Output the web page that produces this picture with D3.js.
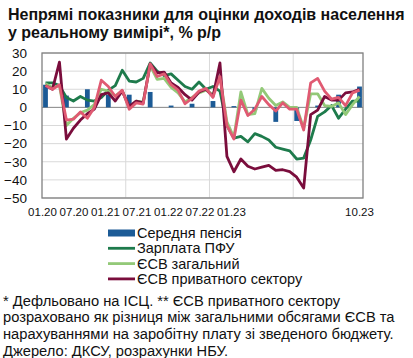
<!DOCTYPE html>
<html>
<head>
<meta charset="utf-8">
<script src="https://cdn.jsdelivr.net/npm/d3@7"></script>
<style>
  body { margin: 0; background: #fff; }
  svg { display: block; font-family: "Liberation Sans", Arial, sans-serif; }
</style>
</head>
<body>
<div id="chart"></div>
<script>
// monthly categories 01.20 .. 10.23
const months = d3.utcMonth.range(new Date(Date.UTC(2020, 0, 1)), new Date(Date.UTC(2023, 10, 1)))
  .map(d3.utcFormat("%m.%y"));

// quarterly average pension (bars), null where no value
const pension = [12.5, null, null, 6.5, null, null, 10, null, null, 7, null, null,
  7, null, null, 8.5, null, null, 1, null, null, 2, null, null,
  3.5, null, null, 0.7, null, null, -1.5, null, null, -8, null, null,
  -7.5, null, null, 1, null, null, 7, null, null, 11.5];

const pfuWage = [13.5, 13.5, 12, 5.5, 3.5, 6, 4, 3.5, 5.5, 9.5, 12, 20.5,
  14.5, 14, 16, 24.5, 20, 17.5, 18.5, 15, 11.5, 10, 14, 10,
  11.5, 9, -10, -17, -16, -19, -14.5, -16, -18, -22, -23, -24,
  -28.5, -28, -18, -5, -2.5, 1, -6, -1, 3.5, 3.5];

const esvTotal = [13, 11, 12, -10, -6, -3, -1.5, 1.5, 10, 9, 6.5, 9,
  0, 3.5, 3, 23, 15.5, 16, 11, 8, 3, 5.5, 8, 9.5,
  7, 17, -8, -16.5, 8.5, -4, -3.5, 10.5, 5, 1, 3, 0,
  0, -11.5, 7.5, 7.5, 1, 0.5, 2.5, -4, 1.5, 6];

const esvPrivate = [12, 10, 25, -17.5, -11.5, -7, -3.5, -1, 7, 8, 3.5, 9,
  0.5, 3.5, 2.5, 24, 19, 19.5, 13.5, 11, 7, 4, 8.5, 10,
  6, 24.5, -27, -35.5, -28.5, -32.5, -34, -33, -32, -34.8, -34.4, -35.5,
  -38.5, -44.5, -4, -1.5, 6, 4, 4, 8, 8.5, 10];

// pink line (no legend entry in the source)
const series5 = [12, 10, 12.5, -7, -6.5, -2.5, -6, 0, 15, 11.5, 6, 9.5,
  -1, 2.5, 1.8, 24, 17, 18.5, 12.5, 9.5, 2, 5, 9, 10.5,
  5.5, 17, -10, -17.5, 4, -4.5, -1, 6, 1.5, -2, 2.5, -1,
  -1, -12.5, 13.5, 16, 9, 4.5, 5.5, 1, 8, 9.5];

const yTicks = [30, 20, 10, 0, -10, -20, -30, -40, -50];
const tickLabels = ["01.20", "07.20", "01.21", "07.21", "01.22", "07.22", "01.23"];
const lastLabel = "10.23";

const titleLines = ["Непрямі показники для оцінки доходів населення", "у реальному вимірі*, % р/р"];
const legendItems = [
  { name: "Середня пенсія", color: "#1c5b96", type: "bar" },
  { name: "Зарплата ПФУ", color: "#1e7b4c", type: "line" },
  { name: "ЄСВ загальний", color: "#93c978", type: "line" },
  { name: "ЄСВ приватного сектору", color: "#7a0d3c", type: "line" }
];
const notes = [
  "* Дефльовано на ІСЦ. ** ЄСВ приватного сектору",
  "розраховано як різниця між загальними обсягами ЄСВ та",
  "нарахуваннями на заробітну плату зі зведеного бюджету.",
  "Джерело: ДКСУ, розрахунки НБУ."
];

const width = 413, height = 358;
const plot = { left: 42, right: 363, top: 53, bottom: 198 };

const svg = d3.select("#chart").append("svg")
  .attr("width", width)
  .attr("height", height);

// title
svg.append("g").selectAll("text")
  .data(titleLines)
  .join("text")
  .attr("x", 8)
  .attr("y", (d, i) => 20 + i * 18)
  .attr("font-size", 16)
  .attr("font-weight", "bold")
  .attr("fill", "#111")
  .text(d => d);

const x = d3.scaleBand().domain(months).range([plot.left, plot.right]);
const y = d3.scaleLinear().domain([-50, 30]).range([plot.bottom, plot.top]);
const xLab = d3.scalePoint().domain(tickLabels).range([42, 231]);

// gridlines
svg.append("g")
  .selectAll("line")
  .data(yTicks)
  .join("line")
  .attr("x1", plot.left).attr("x2", plot.right)
  .attr("y1", d => y(d)).attr("y2", d => y(d))
  .attr("stroke", "#d9d9d9");

svg.append("g")
  .selectAll("line")
  .data(months.filter(m => m.startsWith("01.") && m !== "01.20"))
  .join("line")
  .attr("x1", d => x(d)).attr("x2", d => x(d))
  .attr("y1", plot.top).attr("y2", plot.bottom)
  .attr("stroke", "#d9d9d9");

// zero line
svg.append("line")
  .attr("x1", plot.left).attr("x2", plot.right)
  .attr("y1", y(0)).attr("y2", y(0))
  .attr("stroke", "#8c8c8c");

// bars
svg.append("g")
  .selectAll("rect")
  .data(months.map((m, i) => ({ m, v: pension[i] })).filter(d => d.v !== null))
  .join("rect")
  .attr("x", d => x(d.m) + x.bandwidth() / 2 - 2.4)
  .attr("width", 4.8)
  .attr("y", d => y(Math.max(0, d.v)))
  .attr("height", d => Math.abs(y(d.v) - y(0)))
  .attr("fill", legendItems[0].color);

// lines
const line = d3.line()
  .x((d, i) => x(months[i]) + x.bandwidth() / 2)
  .y(d => y(d));

const lineSeries = [
  { values: pfuWage, color: legendItems[1].color },
  { values: esvTotal, color: legendItems[2].color },
  { values: esvPrivate, color: legendItems[3].color },
  { values: series5, color: "#e05a72" }
];

svg.append("g")
  .attr("fill", "none")
  .attr("stroke-width", 2.8)
  .attr("stroke-linejoin", "round")
  .selectAll("path")
  .data(lineSeries)
  .join("path")
  .attr("stroke", d => d.color)
  .attr("d", d => line(d.values));

// frame
svg.append("rect")
  .attr("x", plot.left).attr("y", plot.top)
  .attr("width", plot.right - plot.left)
  .attr("height", plot.bottom - plot.top)
  .attr("fill", "none")
  .attr("stroke", "#808080")
  .attr("stroke-width", 1.3);

// y axis labels
const yAxis = svg.append("g")
  .attr("transform", "translate(27,0)")
  .call(d3.axisLeft(y).tickValues(yTicks).tickSize(0).tickPadding(0));
yAxis.select(".domain").remove();
yAxis.selectAll("text").attr("font-size", 13.5).attr("font-family", null).attr("fill", "#111");

// x axis labels
const xAxis = svg.append("g")
  .attr("transform", `translate(0,${plot.bottom + 10})`)
  .call(d3.axisBottom(xLab).tickSize(0).tickPadding(0));
xAxis.select(".domain").remove();
xAxis.selectAll("text").attr("font-size", 11.5).attr("font-family", null).attr("fill", "#111");

svg.append("text")
  .attr("x", x(lastLabel) + x.bandwidth() / 2)
  .attr("y", plot.bottom + 10)
  .attr("dy", "0.71em")
  .attr("text-anchor", "middle")
  .attr("font-size", 11.5)
  .attr("fill", "#111")
  .text(lastLabel);

// legend
const legend = svg.append("g")
  .selectAll("g")
  .data(legendItems)
  .join("g")
  .attr("transform", (d, i) => `translate(108,${233 + i * 15.3})`);

legend.append("rect")
  .attr("x", 0)
  .attr("width", 27)
  .attr("y", d => d.type === "bar" ? -3.5 : -1.4)
  .attr("height", d => d.type === "bar" ? 7 : 2.8)
  .attr("fill", d => d.color);

legend.append("text")
  .attr("x", 29)
  .attr("dy", "0.35em")
  .attr("font-size", 14.5)
  .attr("fill", "#111")
  .text(d => d.name);

// footnotes
svg.append("g").selectAll("text")
  .data(notes)
  .join("text")
  .attr("x", 3)
  .attr("y", (d, i) => 300.5 + i * 16.7)
  .attr("dy", "0.35em")
  .attr("font-size", 14.7)
  .attr("fill", "#111")
  .text(d => d);
</script>
</body>
</html>
